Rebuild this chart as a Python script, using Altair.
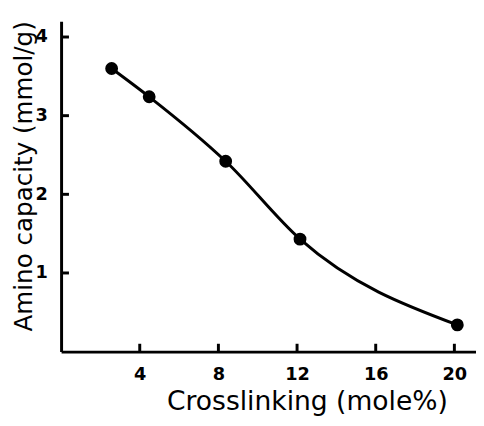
import altair as alt
import pandas as pd

crosslinking = [2.57, 4.48, 8.37, 12.15, 20.15]
capacity = [3.60, 3.24, 2.42, 1.43, 0.34]
x_ticks = [4, 8, 12, 16, 20]
y_ticks = [1, 2, 3, 4]

df = pd.DataFrame({"x": crosslinking, "y": capacity})
xt = pd.DataFrame({"x": x_ticks})
yt = pd.DataFrame({"y": y_ticks})

W, H = 422, 336
FONT = "DejaVu Sans"

xs = alt.Scale(domain=[0, 21.1], nice=False, zero=False)
ys = alt.Scale(domain=[0, 4.2], nice=False, zero=False)

ax_x = alt.Axis(
    values=x_ticks, format="d", ticks=False, domain=True, domainColor="black", domainWidth=3,
    labelFont=FONT, labelFontSize=18, labelFontWeight="bold", labelColor="black",
    labelPadding=14, grid=False,
    title="Crosslinking (mole%)", titleFont=FONT, titleFontSize=27,
    titleFontWeight="normal", titleColor="black", titleX=250, titleY=59,
    titleAlign="center", titleBaseline="alphabetic")
ax_y = alt.Axis(
    values=y_ticks, format="d", ticks=False, domain=True, domainColor="black", domainWidth=3,
    labelFont=FONT, labelFontSize=18, labelFontWeight="bold", labelColor="black",
    labelPadding=14, grid=False,
    title="Amino capacity (mmol/g)", titleFont=FONT, titleFontSize=25,
    titleFontWeight="normal", titleColor="black", titleAngle=-90,
    titleX=-30, titleY=315, titleAlign="left", titleBaseline="alphabetic")

X = alt.X("x:Q", scale=xs, axis=ax_x, title="Crosslinking (mole%)")
Y = alt.Y("y:Q", scale=ys, axis=ax_y, title="Amino capacity (mmol/g)")

base = alt.Chart(df)

line = base.mark_line(color="black", strokeWidth=3, interpolate="monotone").encode(x=X, y=Y)

pts = base.mark_point(filled=True, color="black", size=170, opacity=1).encode(x=X, y=Y)

xtick = alt.Chart(xt).mark_rule(color="black", strokeWidth=3).encode(
    x=X, y=alt.value(H), y2=alt.value(H - 8))

ytick = alt.Chart(yt).mark_rule(color="black", strokeWidth=3).encode(
    y=Y, x=alt.value(0), x2=alt.value(8))

chart = alt.layer(line, pts, xtick, ytick).properties(
    width=W, height=H,
    autosize=alt.AutoSizeParams(type="none"),
    padding={"left": 54, "top": 10, "right": 0, "bottom": 64},
    background="white",
).configure_view(stroke=None)

chart.save("out.html", embed_options={"renderer": "svg", "actions": False})
